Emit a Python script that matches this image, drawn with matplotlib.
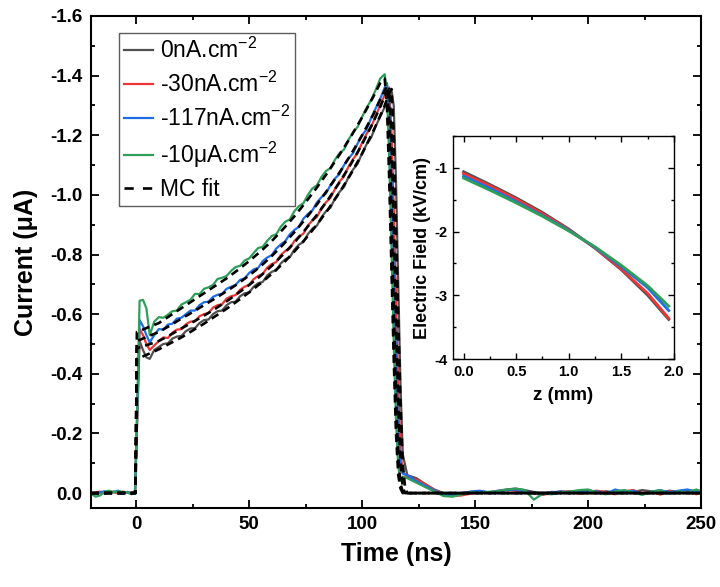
import matplotlib
matplotlib.use("Agg")
import matplotlib.pyplot as plt
from matplotlib.ticker import MultipleLocator, FormatStrFormatter

plt.rcParams['font.family'] = ['Liberation Sans', 'DejaVu Sans']
plt.rcParams['mathtext.fontset'] = 'custom'
plt.rcParams['mathtext.rm'] = 'Liberation Sans'
plt.rcParams['mathtext.it'] = 'Liberation Sans:italic'
plt.rcParams['mathtext.bf'] = 'Liberation Sans:bold'
plt.rcParams['axes.unicode_minus'] = False

# ---------------- data: measured transients ----------------
t_meas = ([-20, -18, -16, -14, -12, -10, -8, -6, -4, -2, -0.5,
           0.5, 1.5, 3, 4.5, 6]
          + list(range(8, 111, 2))
          + [111, 112, 113, 114, 115, 116, 117, 118]
          + list(range(120, 249, 4)) + [250])

i_0nA = ([0.001, 0.003, -0.002, -0.004, 0.0, -0.005, -0.002, 0.002, -0.004, 0.0, -0.003,
          -0.26, -0.51, -0.48, -0.455, -0.45,
          -0.48, -0.49, -0.5, -0.502, -0.518, -0.525, -0.527, -0.543, -0.552, -0.553,
          -0.57, -0.58, -0.582, -0.6, -0.61, -0.612, -0.63, -0.64, -0.642, -0.66,
          -0.67, -0.673, -0.692, -0.704, -0.708, -0.73, -0.742, -0.747, -0.77, -0.784,
          -0.791, -0.816, -0.833, -0.842, -0.868, -0.887, -0.897, -0.925, -0.945, -0.957,
          -0.988, -1.01, -1.027, -1.06, -1.085, -1.104, -1.14, -1.17, -1.192, -1.23,
          -1.262, -1.295,
          -1.31, -1.335, -1.352, -1.3, -1.05, -0.7, -0.36, -0.13,
          -0.06, -0.05, -0.03, -0.012, 0.0, 0.004, 0.0, -0.004, -0.006, -0.002,
          -0.008, -0.012, -0.015, -0.01, -0.004, 0.0, -0.004, -0.002, -0.006, -0.004,
          -0.01, -0.003, -0.006, -0.002, -0.008, -0.004, -0.01, -0.006, -0.002, -0.008,
          -0.004, -0.01, -0.006, -0.004])

i_30nA = ([0.003, -0.002, -0.005, 0.002, -0.006, -0.003, 0.001, -0.005, -0.002, 0.003, -0.004,
           -0.27, -0.55, -0.53, -0.5, -0.48,
           -0.495, -0.51, -0.522, -0.52, -0.538, -0.548, -0.55, -0.566, -0.575, -0.576,
           -0.593, -0.6, -0.604, -0.622, -0.63, -0.633, -0.652, -0.66, -0.664, -0.682,
           -0.692, -0.698, -0.718, -0.728, -0.735, -0.756, -0.768, -0.775, -0.798, -0.812,
           -0.82, -0.845, -0.86, -0.87, -0.897, -0.915, -0.926, -0.955, -0.975, -0.99,
           -1.02, -1.045, -1.062, -1.095, -1.12, -1.14, -1.175, -1.205, -1.228, -1.265,
           -1.3, -1.335,
           -1.35, -1.36, -1.21, -0.96, -0.66, -0.36, -0.14, -0.07,
           -0.055, -0.045, -0.03, -0.01, 0.004, 0.01, 0.008, 0.002, -0.004, -0.002,
           -0.005, -0.01, -0.008, -0.006, 0.002, 0.006, 0.0, -0.006, -0.004, 0.002,
           -0.005, -0.008, -0.003, 0.004, -0.006, -0.01, 0.0, -0.004, 0.005, -0.006,
           -0.002, -0.006, 0.004, -0.003])

i_117nA = ([0.0, 0.004, -0.003, -0.006, -0.002, -0.004, -0.008, 0.0, -0.003, 0.002, -0.006,
            -0.28, -0.58, -0.56, -0.53, -0.505,
            -0.53, -0.55, -0.548, -0.565, -0.568, -0.585, -0.588, -0.6, -0.612, -0.612,
            -0.63, -0.64, -0.642, -0.658, -0.665, -0.668, -0.685, -0.692, -0.698, -0.715,
            -0.72, -0.738, -0.75, -0.755, -0.778, -0.79, -0.798, -0.82, -0.834, -0.845,
            -0.868, -0.882, -0.893, -0.92, -0.936, -0.948, -0.975, -0.992, -1.005, -1.033,
            -1.055, -1.07, -1.1, -1.122, -1.14, -1.172, -1.2, -1.22, -1.258, -1.29,
            -1.322, -1.36,
            -1.375, -1.31, -1.06, -0.76, -0.46, -0.21, -0.08, -0.065,
            -0.06, -0.04, -0.025, -0.008, 0.005, 0.006, 0.002, -0.005, -0.008, -0.003,
            -0.006, -0.01, -0.012, -0.005, 0.0, 0.004, -0.002, -0.006, 0.0, -0.008,
            -0.004, -0.006, 0.002, -0.012, -0.004, -0.008, 0.003, -0.005, -0.01, -0.002,
            -0.008, -0.012, -0.004, -0.01])

i_10uA = ([0.002, 0.012, 0.008, -0.004, -0.008, -0.002, -0.006, -0.004, -0.002, 0.004, -0.01,
           -0.3, -0.645, -0.648, -0.62, -0.53,
           -0.575, -0.59, -0.588, -0.598, -0.61, -0.612, -0.632, -0.64, -0.648, -0.668,
           -0.667, -0.685, -0.69, -0.698, -0.718, -0.722, -0.728, -0.745, -0.758, -0.762,
           -0.78, -0.787, -0.805, -0.822, -0.826, -0.846, -0.862, -0.868, -0.893, -0.91,
           -0.918, -0.945, -0.962, -0.972, -1.0, -1.022, -1.032, -1.06, -1.08, -1.09,
           -1.118, -1.14, -1.152, -1.185, -1.21, -1.228, -1.262, -1.292, -1.318, -1.352,
           -1.39, -1.405,
           -1.34, -1.12, -0.82, -0.5, -0.24, -0.09, -0.04, -0.055,
           -0.05, -0.035, -0.02, -0.005, 0.01, 0.012, 0.005, -0.003, 0.0, -0.004,
           -0.006, -0.012, -0.015, -0.01, 0.022, 0.002, 0.004, -0.003, -0.005, -0.01,
           -0.012, -0.002, 0.004, -0.006, -0.01, -0.002, 0.006, -0.004, -0.01, 0.003,
           -0.006, -0.002, -0.012, -0.006])

# ---------------- data: Monte-Carlo fits ----------------
t_fit = ([-20, -0.3, 0.3, 2, 5] + list(range(10, 106, 5))
         + [108, 110, 111, 112, 113, 114, 115, 116, 117, 118, 119, 120, 250])

fit_0nA = [0, 0, -0.45, -0.455, -0.465, -0.482, -0.502, -0.522, -0.545, -0.568, -0.593,
           -0.618, -0.645, -0.673, -0.703, -0.735, -0.77, -0.81, -0.853, -0.9, -0.952,
           -1.008, -1.07, -1.138, -1.215, -1.265, -1.3, -1.32, -1.34, -1.355, -1.2, -0.9,
           -0.58, -0.3, -0.1, -0.02, 0, 0]
fit_30nA = [0, 0, -0.485, -0.49, -0.497, -0.51, -0.53, -0.552, -0.573, -0.595, -0.618,
            -0.643, -0.67, -0.698, -0.728, -0.762, -0.8, -0.84, -0.885, -0.933, -0.985,
            -1.042, -1.103, -1.17, -1.245, -1.295, -1.33, -1.345, -1.355, -1.2, -0.9,
            -0.58, -0.3, -0.1, -0.02, 0, 0, 0]
fit_117nA = [0, 0, -0.51, -0.515, -0.525, -0.54, -0.562, -0.585, -0.607, -0.63, -0.653,
             -0.677, -0.702, -0.73, -0.76, -0.795, -0.833, -0.875, -0.92, -0.968, -1.02,
             -1.075, -1.135, -1.2, -1.27, -1.32, -1.35, -1.365, -1.25, -0.95, -0.62,
             -0.32, -0.12, -0.03, -0.005, 0, 0, 0]
fit_10uA = [0, 0, -0.54, -0.545, -0.555, -0.57, -0.595, -0.62, -0.645, -0.67, -0.695,
            -0.72, -0.748, -0.778, -0.81, -0.845, -0.885, -0.928, -0.975, -1.025, -1.078,
            -1.135, -1.195, -1.26, -1.33, -1.375, -1.39, -1.3, -1.05, -0.75, -0.45,
            -0.2, -0.06, -0.015, 0, 0, 0, 0]

# ---------------- data: inset electric field ----------------
z_mm = [0, 0.25, 0.5, 0.75, 1.0, 1.25, 1.5, 1.75, 1.95]
e_0nA = [-1.06, -1.26, -1.47, -1.7, -1.96, -2.26, -2.6, -3.0, -3.38]
e_30nA = [-1.09, -1.28, -1.49, -1.72, -1.97, -2.26, -2.59, -2.97, -3.36]
e_117nA = [-1.13, -1.32, -1.53, -1.75, -1.98, -2.25, -2.55, -2.88, -3.24]
e_10uA = [-1.16, -1.35, -1.55, -1.76, -1.99, -2.24, -2.53, -2.85, -3.17]

labels = ['0nA.cm$^{-2}$', '-30nA.cm$^{-2}$', '-117nA.cm$^{-2}$', '-10\u03bcA.cm$^{-2}$']
colors = ['#505050', '#ee3535', '#1f6de6', '#2f9e58']

# ---------------- figure ----------------
fig = plt.figure(figsize=(7.2, 5.87), dpi=100)
ax = fig.add_axes([0.1264, 0.1346, 0.8472, 0.8382])

for y, c, lab in zip([i_0nA, i_30nA, i_117nA, i_10uA], colors, labels):
    ax.plot(t_meas, y, color=c, lw=1.6, label=lab)
first = True
for f in [fit_0nA, fit_30nA, fit_117nA, fit_10uA]:
    ax.plot(t_fit, f, color='black', lw=1.9, ls=(0, (3, 2)),
            label='MC fit' if first else None)
    first = False

ax.set_xlim(-20, 250)
ax.set_ylim(0.05, -1.6)
ax.xaxis.set_major_locator(MultipleLocator(50))
ax.xaxis.set_minor_locator(MultipleLocator(25))
ax.yaxis.set_major_locator(MultipleLocator(0.2))
ax.yaxis.set_minor_locator(MultipleLocator(0.1))
ax.yaxis.set_major_formatter(FormatStrFormatter('%.1f'))
ax.tick_params(which='both', direction='in', top=True, right=True, width=1.3)
ax.tick_params(which='major', length=5.5, labelsize=13.5, pad=6)
ax.tick_params(which='minor', length=3)
for lbl in ax.get_xticklabels() + ax.get_yticklabels():
    lbl.set_fontweight('bold')
for s in ax.spines.values():
    s.set_linewidth(1.5)
ax.set_xlabel('Time (ns)', fontsize=18, fontweight='bold', labelpad=6)
ax.set_ylabel('Current (\u03bcA)', fontsize=18, fontweight='bold', labelpad=9)

leg = ax.legend(loc='upper left', bbox_to_anchor=(0.046, 0.965), borderaxespad=0,
                fontsize=16.5, frameon=True, fancybox=False, edgecolor='#333333',
                handlelength=1.3, handletextpad=0.3, borderpad=0.2,
                labelspacing=0.38)
leg.get_frame().set_linewidth(1.0)
leg.get_lines()[-1].set_linestyle((0, (3.5, 3.5)))

# ---------------- inset ----------------
ins = fig.add_axes([0.6292, 0.3884, 0.3069, 0.3799])
for e, c in zip([e_0nA, e_30nA, e_117nA, e_10uA], colors):
    ins.plot(z_mm, e, color=c, lw=2.0)
ins.set_xlim(-0.1, 2.0)
ins.set_ylim(-4, -0.5)
ins.xaxis.set_major_locator(MultipleLocator(0.5))
ins.xaxis.set_minor_locator(MultipleLocator(0.25))
ins.yaxis.set_major_locator(MultipleLocator(1))
ins.yaxis.set_minor_locator(MultipleLocator(0.5))
ins.xaxis.set_major_formatter(FormatStrFormatter('%.1f'))
ins.yaxis.set_major_formatter(FormatStrFormatter('%d'))
ins.tick_params(which='both', direction='in', top=True, right=True, width=1.0)
ins.tick_params(which='major', length=4, labelsize=10.5, pad=4)
ins.tick_params(which='minor', length=2.5)
for lbl in ins.get_xticklabels() + ins.get_yticklabels():
    lbl.set_fontweight('bold')
for s in ins.spines.values():
    s.set_linewidth(1.0)
ins.set_xlabel('z (mm)', fontsize=13.5, fontweight='bold', labelpad=6)
ins.set_ylabel('Electric Field (kV/cm)', fontsize=13, fontweight='bold', labelpad=2)

fig.savefig('out.png', dpi=100)
